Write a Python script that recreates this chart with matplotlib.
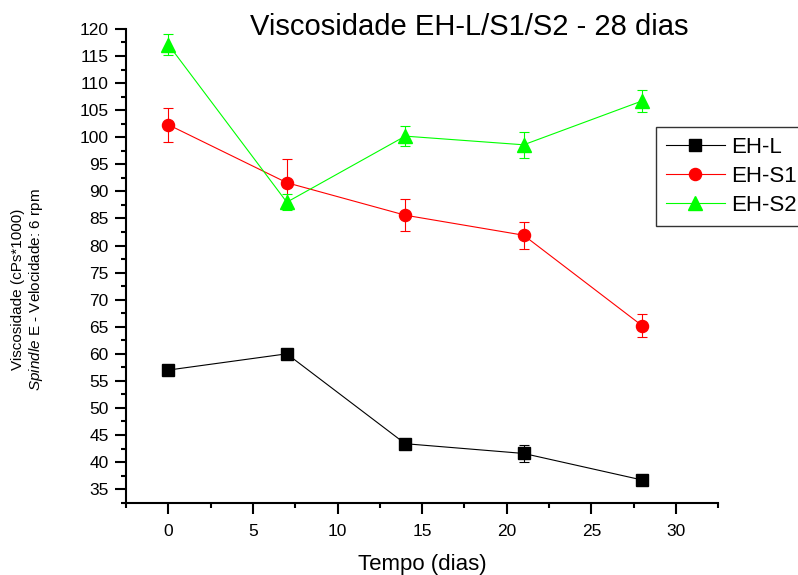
import matplotlib.pyplot as plt
from matplotlib.lines import Line2D

plt.rcParams['font.family'] = ['Liberation Sans', 'DejaVu Sans']
plt.rcParams['mathtext.fontset'] = 'custom'
plt.rcParams['mathtext.it'] = 'Liberation Sans:italic'
plt.rcParams['mathtext.rm'] = 'Liberation Sans'

# dados
dias = [0, 7, 14, 21, 28]
eh_l = [57.0, 60.0, 43.4, 41.6, 36.7]
eh_l_err = [0.3, 0.3, 0.5, 1.6, 0.3]
eh_s1 = [102.3, 91.6, 85.6, 81.9, 65.2]
eh_s1_err = [3.1, 4.4, 2.9, 2.5, 2.1]
eh_s2 = [117.1, 88.0, 100.2, 98.6, 106.7]
eh_s2_err = [2.0, 1.5, 1.9, 2.4, 2.0]

series = [
    ('EH-L', eh_l, eh_l_err, 'black', 's', 8),
    ('EH-S1', eh_s1, eh_s1_err, '#ff0000', 'o', 8.7),
    ('EH-S2', eh_s2, eh_s2_err, '#00ff00', '^', 9.5),
]

fig = plt.figure(figsize=(7.98, 5.75), dpi=100)
ax = fig.add_axes([0.158, 0.1257, 0.742, 0.824])

handles = []
for nome, y, err, cor, mk, ms in series:
    ax.errorbar(dias, y, yerr=err, color=cor, marker=mk, ms=ms,
                lw=0.8, elinewidth=0.8, capsize=3.6, capthick=0.8)
    handles.append(Line2D([], [], color=cor, marker=mk, ms=ms, lw=0.8, label=nome))

ax.set_xlim(-2.5, 32.5)
ax.set_ylim(32.5, 120)
ax.set_xticks(range(0, 31, 5))
ax.set_xticks([-2.5 + 5 * i for i in range(8)], minor=True)
ax.set_yticks(range(35, 121, 5))
ax.set_yticks([32.5 + 5 * i for i in range(18)], minor=True)

for s in ['top', 'right']:
    ax.spines[s].set_visible(False)
for s in ['left', 'bottom']:
    ax.spines[s].set_linewidth(1.5)
ax.tick_params(which='major', direction='out', length=8, width=1.5, labelsize=12.5)
ax.tick_params(axis='y', which='major', pad=4.5)
ax.tick_params(axis='x', which='major', pad=7)
ax.tick_params(which='minor', direction='out', length=3.5, width=1.5)

fig.text(0.529, 1 - 570 / 575, 'Tempo (dias)', ha='center', va='baseline', fontsize=16)
fig.text(0.035, 0.496, 'Viscosidade (cPs*1000)\n$\\it{Spindle}$ E - Velocidade: 6 rpm',
         rotation=90, ha='center', va='center', fontsize=11, multialignment='center')

fig.text(0.588, 0.953, 'Viscosidade EH-L/S1/S2 - 28 dias', ha='center', va='center', fontsize=21)

leg = ax.legend(handles=handles, loc='upper left', bbox_to_anchor=(656 / 798, 1 - 127 / 575),
                bbox_transform=fig.transFigure, fontsize=16, frameon=True,
                fancybox=False, handlelength=2.65, handletextpad=0.3,
                borderpad=0.44, labelspacing=0.36, borderaxespad=0)
leg.get_frame().set_edgecolor('#333333')
leg.get_frame().set_linewidth(1.0)
leg.get_frame().set_alpha(1)

fig.savefig('out.png', dpi=100)
